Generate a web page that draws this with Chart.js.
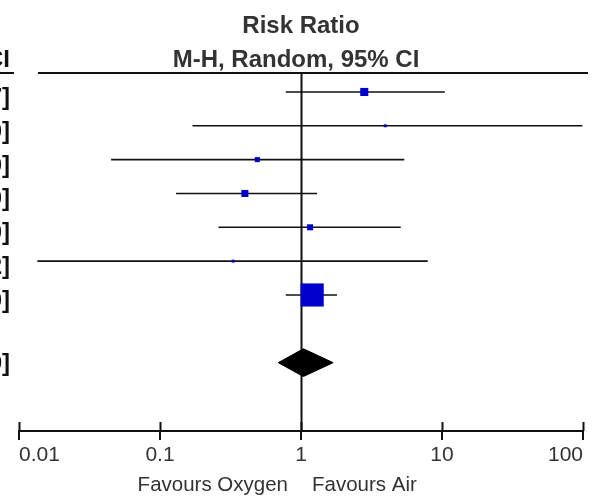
<!DOCTYPE html>
<html lang="en">
<head>
<meta charset="UTF-8" />
<title>Risk Ratio - M-H, Random, 95% CI</title>
<script src="https://cdn.jsdelivr.net/npm/chart.js"></script>
<style>
  html, body { margin: 0; padding: 0; background: #fff; }
  #wrap { width: 594px; height: 502px; }
</style>
</head>
<body>
<div id="wrap"><canvas id="forest"></canvas></div>
<script>
// studies (rows from top), risk ratio and 95% CI
const studyRows = [1, 2, 3, 4, 5, 6, 7];
const riskRatio = [2.81, 3.96, 0.49, 0.40, 1.16, 0.33, 1.20];
const ciLower   = [0.78, 0.17, 0.045, 0.13, 0.26, 0.0135, 0.78];
const ciUpper   = [10.47, 99.00, 5.40, 1.30, 5.10, 7.92, 1.80];
const weights   = [8.9, 1.2, 3.5, 6.8, 5.0, 1.2, 73.4]; // % weight -> box size

// pooled estimate (diamond)
const totalRow = 9;
const totalCI = [0.69, 1.04, 1.69]; // lower, estimate, upper

const tickValues = [0.01, 0.1, 1, 10, 100];
const tickLabels = ['0.01', '0.1', '1', '10', '100'];

const sans = "'Liberation Sans', Arial, sans-serif";

const fmt = v => v.toFixed(2);
const rowText = studyRows.map((r, i) =>
  fmt(riskRatio[i]) + ' [' + fmt(ciLower[i]) + ', ' + fmt(ciUpper[i]) + ']');
const totalText = fmt(totalCI[1]) + ' [' + fmt(totalCI[0]) + ', ' + fmt(totalCI[2]) + ']';

// datasets: boxes first so they sit on top of the CI lines
const datasets = [];
datasets.push({
  label: 'estimate',
  data: studyRows.map((r, i) => ({ x: riskRatio[i], y: r })),
  pointStyle: 'rect',
  pointRadius: weights.map(w => 2.7 * Math.sqrt(w) / Math.SQRT2),
  pointHoverRadius: weights.map(w => 2.7 * Math.sqrt(w) / Math.SQRT2),
  backgroundColor: '#0000cc',
  borderWidth: 0
});
studyRows.forEach((r, i) => {
  datasets.push({
    label: 'ci' + r,
    data: [{ x: ciLower[i], y: r }, { x: ciUpper[i], y: r }],
    showLine: true,
    borderColor: '#111',
    borderWidth: 1.6,
    pointRadius: 0
  });
});
const dh = 0.41; // diamond half height in row units
datasets.push({
  label: 'total',
  data: [
    { x: totalCI[0], y: totalRow },
    { x: totalCI[1], y: totalRow - dh },
    { x: totalCI[2], y: totalRow },
    { x: totalCI[1], y: totalRow + dh },
    { x: totalCI[0], y: totalRow }
  ],
  showLine: true,
  fill: 'shape',
  backgroundColor: '#000',
  borderColor: '#000',
  borderWidth: 1,
  pointRadius: 0,
  tension: 0
});

const forestFrame = {
  id: 'forestFrame',
  beforeDatasetsDraw(chart) {
    const { ctx, chartArea: a, scales: { x } } = chart;
    const x1 = Math.round(x.getPixelForValue(1)) + 0.5;
    ctx.save();
    ctx.strokeStyle = '#111';
    ctx.lineWidth = 2;
    // line of no effect
    ctx.beginPath();
    ctx.moveTo(x1, a.top);
    ctx.lineTo(x1, a.bottom);
    ctx.stroke();
    // header rules
    ctx.beginPath();
    ctx.moveTo(38, a.top);
    ctx.lineTo(588, a.top);
    ctx.moveTo(0, a.top);
    ctx.lineTo(14, a.top);
    ctx.stroke();
    // upper halves of the axis ticks
    ctx.beginPath();
    tickValues.forEach(v => {
      const px = Math.round(x.getPixelForValue(v)) + 0.5;
      ctx.moveTo(px, a.bottom - 9);
      ctx.lineTo(px, a.bottom);
    });
    ctx.stroke();
    ctx.restore();
  },
  afterDraw(chart) {
    const { ctx, chartArea: a, scales: { x, y } } = chart;
    const x1 = x.getPixelForValue(1);
    ctx.save();
    // header
    ctx.fillStyle = '#333';
    ctx.textAlign = 'center';
    ctx.textBaseline = 'alphabetic';
    ctx.font = 'bold 24px ' + sans;
    ctx.fillText('Risk Ratio', x1, 33);
    ctx.fillText('M-H, Random, 95% CI', x1 - 5, 67);
    // left columns (cut off at the frame edge)
    ctx.fillStyle = '#111';
    ctx.textAlign = 'right';
    ctx.fillText('IV, Random, 95% CI', 10, 67);
    studyRows.forEach((r, i) => {
      ctx.fillText(rowText[i], 10, y.getPixelForValue(r) + 13);
    });
    ctx.fillText(totalText, 10, y.getPixelForValue(totalRow) + 8);
    // favours labels
    ctx.fillStyle = '#333';
    ctx.font = '20.5px ' + sans;
    ctx.textAlign = 'right';
    ctx.fillText('Favours Oxygen', x1 - 13, 491);
    ctx.textAlign = 'left';
    ctx.fillText('Favours Air', x1 + 11, 491);
    ctx.restore();
  }
};

new Chart(document.getElementById('forest'), {
  type: 'scatter',
  data: { datasets },
  options: {
    responsive: true,
    maintainAspectRatio: false,
    animation: false,
    events: [],
    layout: { autoPadding: false, padding: { left: 19, right: 11, top: 73, bottom: 0 } },
    plugins: { legend: { display: false }, tooltip: { enabled: false }, title: { display: false } },
    scales: {
      x: {
        type: 'logarithmic',
        min: 0.01,
        max: 100,
        position: 'bottom',
        afterBuildTicks: s => { s.ticks = tickValues.map(v => ({ value: v })); },
        afterFit: s => { s.height = 71; },
        border: { display: true, color: '#111', width: 2 },
        grid: { display: true, drawOnChartArea: false, drawTicks: true, tickLength: 9, color: '#111', lineWidth: 2 },
        ticks: {
          align: 'inner',
          autoSkip: false,
          maxRotation: 0,
          padding: 3,
          color: '#333',
          font: { family: sans, size: 21 },
          callback: (v, i) => tickLabels[i]
        }
      },
      y: {
        type: 'linear',
        reverse: true,
        min: 0.44,
        max: 11.02,
        display: false
      }
    }
  },
  plugins: [forestFrame]
});
</script>
</body>
</html>
